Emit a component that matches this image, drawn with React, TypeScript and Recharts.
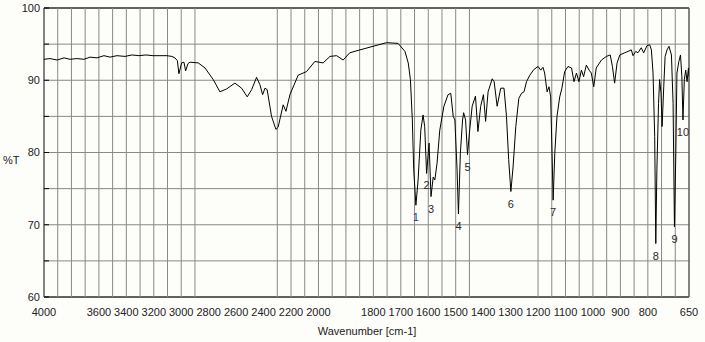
import React from "react";
import { ComposedChart, Line, Scatter, XAxis, YAxis, CartesianGrid, ReferenceArea, ReferenceLine } from "recharts";

// wavenumber [cm-1], high to low
const wavenumbers = [
  4000, 3956, 3905, 3854, 3811, 3760, 3709, 3665, 3614, 3563,
  3519, 3468, 3410, 3359, 3308, 3257, 3206, 3155, 3104, 3068,
  3046, 3028, 3017, 2997, 2980, 2968, 2951, 2937, 2876, 2827,
  2767, 2718, 2669, 2609, 2560, 2519, 2487, 2451, 2427, 2407,
  2390, 2374, 2342, 2310, 2294, 2257, 2237, 2208, 2148, 2087,
  2026, 1983, 1958, 1934, 1910, 1886, 1849, 1801, 1752, 1710,
  1685, 1673, 1665, 1658, 1653, 1645, 1637, 1627, 1619, 1613,
  1606, 1601, 1597, 1590, 1582, 1576, 1568, 1558, 1543, 1528,
  1518, 1509, 1503, 1495, 1490, 1483, 1475, 1471, 1464, 1457,
  1449, 1440, 1428, 1419, 1409, 1399, 1391, 1382, 1367, 1360,
  1349, 1336, 1324, 1315, 1307, 1299, 1291, 1281, 1270, 1260,
  1251, 1242, 1230, 1215, 1200, 1190, 1182, 1176, 1167, 1160,
  1154, 1149, 1145, 1139, 1131, 1121, 1113, 1103, 1091, 1078,
  1069, 1060, 1051, 1042, 1034, 1024, 1014, 1006, 997, 988,
  969, 951, 937, 929, 921, 912, 902, 884, 872, 860,
  854, 844, 836, 824, 815, 803, 793, 787, 781, 775,
  771, 767, 761, 757, 752, 748, 742, 737, 730, 723,
  714, 708, 703, 698, 694, 687, 681, 676, 672, 667,
  662, 657, 652, 650,
];

// %T
const transmittance = [
  92.9, 93.0, 92.8, 93.1, 92.9, 93.0, 92.9, 93.2, 93.1, 93.4,
  93.2, 93.4, 93.3, 93.5, 93.4, 93.5, 93.4, 93.4, 93.4, 93.3,
  93.1, 92.7, 90.9, 92.4, 92.5, 91.3, 92.3, 92.5, 92.4, 91.7,
  90.1, 88.4, 88.8, 89.6, 88.9, 87.7, 88.7, 90.4, 89.4, 88.0,
  88.9, 88.7, 85.0, 83.2, 83.5, 86.6, 85.7, 88.0, 90.7, 91.2,
  92.6, 92.4, 93.3, 93.4, 92.8, 93.8, 94.2, 94.7, 95.2, 95.1,
  94.0, 92.4, 90.1, 84.5, 77.6, 72.7, 76.2, 83.1, 85.2, 83.6,
  77.1, 79.4, 81.3, 73.9, 76.6, 76.2, 78.5, 83.1, 86.4, 88.0,
  88.2, 85.0, 84.5, 77.6, 71.5, 79.9, 84.5, 85.5, 84.5, 79.7,
  83.1, 86.4, 87.8, 82.9, 86.4, 88.0, 84.3, 88.4, 90.2, 89.8,
  86.4, 88.9, 88.9, 85.0, 79.0, 74.6, 78.0, 83.6, 87.5, 88.2,
  88.4, 89.8, 90.7, 91.5, 91.9, 91.4, 91.8, 91.0, 88.4, 89.1,
  87.7, 79.9, 73.4, 79.9, 85.0, 87.7, 88.9, 91.2, 91.9, 91.7,
  89.8, 91.0, 89.8, 91.4, 90.5, 92.1, 91.4, 91.0, 89.1, 91.7,
  92.8, 93.3, 93.5, 91.9, 89.6, 92.4, 93.5, 93.8, 94.0, 94.2,
  93.4, 94.0, 93.8, 94.5, 93.8, 94.8, 94.9, 94.2, 91.0, 82.2,
  67.4, 77.6, 86.8, 90.1, 88.2, 83.6, 89.1, 93.3, 94.2, 94.7,
  93.5, 86.8, 69.7, 79.9, 91.0, 92.6, 93.5, 90.5, 84.5, 90.1,
  91.4, 89.8, 91.7, 90.5,
];

const peakNames = ["1", "2", "3", "4", "5", "6", "7", "8", "9", "10"];
const peakWavenumbers = [1645, 1606, 1590, 1490, 1457, 1299, 1145, 771, 703, 672];
const peakTransmittance = [72.7, 77.1, 73.9, 71.5, 79.7, 74.6, 73.4, 67.4, 69.7, 84.5];

const xTickLabels = [
  4000, 3600, 3400, 3200, 3000, 2800, 2600, 2400, 2200, 2000,
  1800, 1700, 1600, 1500, 1400, 1300, 1200, 1100, 1000, 900, 800, 650,
];
const xGridLines = [
  4000, 3900, 3800, 3700, 3600, 3500, 3400, 3300, 3200, 3100, 3000, 2900,
  2300, 2200, 2100, 2000,
  1950, 1900, 1850, 1800, 1750, 1700, 1650, 1600, 1550, 1500, 1450,
  1200, 1150, 1100, 1050, 1000, 950, 900, 850, 800, 750, 700, 650,
];
const yTicks = [60, 65, 70, 75, 80, 85, 90, 95, 100];

// the axis is squeezed 2:1 above 2000 cm-1
const toAxis = (w: number) => (w <= 2000 ? w : 2000 + (w - 2000) / 2);
const fromAxis = (u: number) => (u <= 2000 ? u : 2000 + (u - 2000) * 2);

const spectrum = wavenumbers.map((w, i) => ({ u: toAxis(w), t: transmittance[i] }));
const peaks = peakWavenumbers.map((w, i) => ({ u: toAxis(w), t: peakTransmittance[i], name: peakNames[i] }));

const domain: [number, number] = [toAxis(650), toAxis(4000)];
const gridTicks = xGridLines.map(toAxis);
const font = "'Liberation Sans', Arial, sans-serif";
const tickStyle = { fill: "#222", fontSize: 11, fontFamily: font };

function PeakLabel(props: any) {
  const { cx, cy, payload } = props;
  return (
    <text x={cx} y={cy + 16} textAnchor="middle" fontSize={11} fontFamily={font} fill={payload.name === "1" ? "#23419a" : "#2a2a2a"}>
      {payload.name}
    </text>
  );
}

export default function App() {
  return (
    <div style={{ position: "absolute", left: 0, top: 0, width: 705, height: 342, background: "#fdfdfa", overflow: "hidden" }}>
      <ComposedChart width={705} height={342} data={spectrum} margin={{ top: 8, right: 16, bottom: 0, left: 0 }}>
        <XAxis
          xAxisId="grid"
          dataKey="u"
          type="number"
          domain={domain}
          reversed
          allowDataOverflow
          ticks={gridTicks}
          interval={0}
          tick={false}
          tickSize={-5}
          tickLine={{ stroke: "#000" }}
          axisLine={false}
          height={1}
        />
        <XAxis
          xAxisId="lab"
          dataKey="u"
          type="number"
          domain={domain}
          reversed
          allowDataOverflow
          ticks={xTickLabels.map(toAxis)}
          interval={0}
          tickFormatter={(u: number) => String(Math.round(fromAxis(u)))}
          tick={tickStyle}
          tickLine={false}
          tickSize={0}
          tickMargin={10}
          axisLine={false}
          height={44}
        />
        <YAxis
          type="number"
          domain={[60, 100]}
          ticks={yTicks}
          interval={0}
          tickFormatter={(v: number) => (v % 10 === 0 ? String(v) : "")}
          tick={tickStyle}
          tickSize={-5}
          tickMargin={9}
          tickLine={{ stroke: "#000" }}
          axisLine={false}
          width={44}
        />
        <CartesianGrid xAxisId="lab" vertical={false} stroke="#888" strokeWidth={1} />
        {gridTicks.map((u) => (
          <ReferenceLine key={u} xAxisId="lab" x={u} stroke="#888" strokeWidth={1} />
        ))}
        <ReferenceArea xAxisId="lab" x1={domain[0]} x2={domain[1]} y1={60} y2={100} fill="none" stroke="#000" strokeWidth={1} />
        <Line xAxisId="lab" dataKey="t" type="linear" stroke="#000" strokeWidth={1} dot={false} isAnimationActive={false} />
        <Scatter xAxisId="lab" data={peaks} dataKey="t" shape={PeakLabel} isAnimationActive={false} />
      </ComposedChart>
      <div style={{ position: "absolute", left: 3, top: 154, fontSize: 11, fontFamily: font, color: "#222", lineHeight: "13px" }}>%T</div>
      <div style={{ position: "absolute", left: 267, top: 325, width: 200, textAlign: "center", fontSize: 11, fontFamily: font, color: "#222", lineHeight: "13px" }}>
        Wavenumber [cm-1]
      </div>
    </div>
  );
}
